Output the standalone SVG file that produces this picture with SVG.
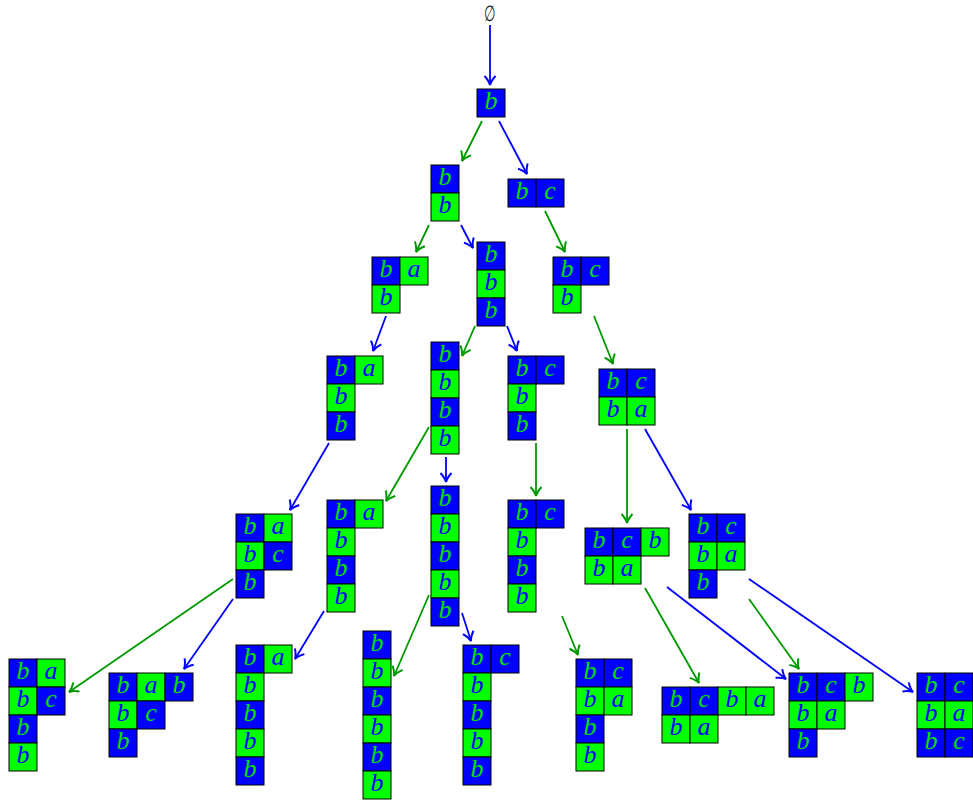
<svg xmlns="http://www.w3.org/2000/svg" width="973" height="801" viewBox="0 0 973 801">
<style>
.B{fill:#0000ff;stroke:#000;stroke-width:1}
.G{fill:#00ff00;stroke:#000;stroke-width:1}
text{font-family:"Liberation Serif","DejaVu Serif",serif;font-style:italic;font-size:26px;text-anchor:middle}
.g{fill:#00e000}
.u{fill:#0000ff}
.eb{stroke:#0000ff;stroke-width:1.8;fill:none;marker-end:url(#mb)}
.eg{stroke:#009900;stroke-width:1.8;fill:none;marker-end:url(#mg)}
</style>
<defs>
<marker id="mb" markerUnits="userSpaceOnUse" markerWidth="14" markerHeight="14" refX="10" refY="7" orient="auto" viewBox="0 0 14 14"><path d="M1,1.5 Q6,6 10,7 Q6,8 1,12.5" fill="none" stroke="#0000ff" stroke-width="2"/></marker>
<marker id="mg" markerUnits="userSpaceOnUse" markerWidth="14" markerHeight="14" refX="10" refY="7" orient="auto" viewBox="0 0 14 14"><path d="M1,1.5 Q6,6 10,7 Q6,8 1,12.5" fill="none" stroke="#009900" stroke-width="2"/></marker>
</defs>
<g id="edges">
<line class="eb" x1="490" y1="25" x2="490" y2="85"/>
<line class="eg" x1="482" y1="121" x2="462" y2="161"/>
<line class="eb" x1="499" y1="121" x2="527" y2="174"/>
<line class="eg" x1="429" y1="225" x2="416" y2="252"/>
<line class="eb" x1="461" y1="225" x2="473" y2="248"/>
<line class="eg" x1="545" y1="211" x2="565" y2="252"/>
<line class="eb" x1="386" y1="316" x2="373" y2="351"/>
<line class="eg" x1="475" y1="326" x2="462" y2="356"/>
<line class="eb" x1="507" y1="326" x2="517" y2="351"/>
<line class="eg" x1="594" y1="316" x2="613" y2="364"/>
<line class="eb" x1="329" y1="443" x2="290" y2="510"/>
<line class="eg" x1="429" y1="427" x2="386" y2="501"/>
<line class="eb" x1="446" y1="457" x2="446" y2="482"/>
<line class="eg" x1="536" y1="443" x2="536" y2="496"/>
<line class="eg" x1="627" y1="429" x2="627" y2="523"/>
<line class="eb" x1="645" y1="429" x2="691" y2="510"/>
<line class="eg" x1="233" y1="579" x2="69" y2="692"/>
<line class="eb" x1="233" y1="599" x2="184" y2="669"/>
<line class="eb" x1="324" y1="611" x2="295" y2="659"/>
<line class="eg" x1="429" y1="595" x2="394" y2="676"/>
<line class="eb" x1="462" y1="613" x2="471" y2="641"/>
<line class="eg" x1="562" y1="616" x2="578" y2="655"/>
<line class="eg" x1="645" y1="588" x2="699" y2="683"/>
<line class="eb" x1="667" y1="587" x2="786" y2="679"/>
<line class="eg" x1="749" y1="599" x2="799" y2="669"/>
<line class="eb" x1="749" y1="579" x2="913" y2="692"/>
</g>
<g id="n0"><text transform="translate(489.5,20.5) scale(0.6,1)" style="font-style:normal;font-size:22px;fill:#222">∅</text></g>
<g id="n1" transform="translate(477,89)">
<rect class="B" x="0" y="0" width="28" height="28"/><text class="g" x="14" y="20">b</text>
</g>
<g id="n2" transform="translate(431,165)">
<rect class="B" x="0" y="0" width="28" height="28"/><text class="g" x="14" y="20">b</text>
<rect class="G" x="0" y="28" width="28" height="28"/><text class="u" x="14" y="48">b</text>
</g>
<g id="n3" transform="translate(508,179)">
<rect class="B" x="0" y="0" width="28" height="28"/><text class="g" x="14" y="20">b</text>
<rect class="B" x="28" y="0" width="28" height="28"/><text class="g" x="42" y="20">c</text>
</g>
<g id="n4" transform="translate(372,257)">
<rect class="B" x="0" y="0" width="28" height="28"/><text class="g" x="14" y="20">b</text>
<rect class="G" x="28" y="0" width="28" height="28"/><text class="u" x="42" y="20">a</text>
<rect class="G" x="0" y="28" width="28" height="28"/><text class="u" x="14" y="48">b</text>
</g>
<g id="n5" transform="translate(477,242)">
<rect class="B" x="0" y="0" width="28" height="28"/><text class="g" x="14" y="20">b</text>
<rect class="G" x="0" y="28" width="28" height="28"/><text class="u" x="14" y="48">b</text>
<rect class="B" x="0" y="56" width="28" height="28"/><text class="g" x="14" y="76">b</text>
</g>
<g id="n6" transform="translate(553,257)">
<rect class="B" x="0" y="0" width="28" height="28"/><text class="g" x="14" y="20">b</text>
<rect class="B" x="28" y="0" width="28" height="28"/><text class="g" x="42" y="20">c</text>
<rect class="G" x="0" y="28" width="28" height="28"/><text class="u" x="14" y="48">b</text>
</g>
<g id="n7" transform="translate(327,356)">
<rect class="B" x="0" y="0" width="28" height="28"/><text class="g" x="14" y="20">b</text>
<rect class="G" x="28" y="0" width="28" height="28"/><text class="u" x="42" y="20">a</text>
<rect class="G" x="0" y="28" width="28" height="28"/><text class="u" x="14" y="48">b</text>
<rect class="B" x="0" y="56" width="28" height="28"/><text class="g" x="14" y="76">b</text>
</g>
<g id="n8" transform="translate(431,342)">
<rect class="B" x="0" y="0" width="28" height="28"/><text class="g" x="14" y="20">b</text>
<rect class="G" x="0" y="28" width="28" height="28"/><text class="u" x="14" y="48">b</text>
<rect class="B" x="0" y="56" width="28" height="28"/><text class="g" x="14" y="76">b</text>
<rect class="G" x="0" y="84" width="28" height="28"/><text class="u" x="14" y="104">b</text>
</g>
<g id="n9" transform="translate(508,356)">
<rect class="B" x="0" y="0" width="28" height="28"/><text class="g" x="14" y="20">b</text>
<rect class="B" x="28" y="0" width="28" height="28"/><text class="g" x="42" y="20">c</text>
<rect class="G" x="0" y="28" width="28" height="28"/><text class="u" x="14" y="48">b</text>
<rect class="B" x="0" y="56" width="28" height="28"/><text class="g" x="14" y="76">b</text>
</g>
<g id="n10" transform="translate(599,369)">
<rect class="B" x="0" y="0" width="28" height="28"/><text class="g" x="14" y="20">b</text>
<rect class="B" x="28" y="0" width="28" height="28"/><text class="g" x="42" y="20">c</text>
<rect class="G" x="0" y="28" width="28" height="28"/><text class="u" x="14" y="48">b</text>
<rect class="G" x="28" y="28" width="28" height="28"/><text class="u" x="42" y="48">a</text>
</g>
<g id="n11" transform="translate(236,514)">
<rect class="B" x="0" y="0" width="28" height="28"/><text class="g" x="14" y="20">b</text>
<rect class="G" x="28" y="0" width="28" height="28"/><text class="u" x="42" y="20">a</text>
<rect class="G" x="0" y="28" width="28" height="28"/><text class="u" x="14" y="48">b</text>
<rect class="B" x="28" y="28" width="28" height="28"/><text class="g" x="42" y="48">c</text>
<rect class="B" x="0" y="56" width="28" height="28"/><text class="g" x="14" y="76">b</text>
</g>
<g id="n12" transform="translate(327,500)">
<rect class="B" x="0" y="0" width="28" height="28"/><text class="g" x="14" y="20">b</text>
<rect class="G" x="28" y="0" width="28" height="28"/><text class="u" x="42" y="20">a</text>
<rect class="G" x="0" y="28" width="28" height="28"/><text class="u" x="14" y="48">b</text>
<rect class="B" x="0" y="56" width="28" height="28"/><text class="g" x="14" y="76">b</text>
<rect class="G" x="0" y="84" width="28" height="28"/><text class="u" x="14" y="104">b</text>
</g>
<g id="n13" transform="translate(431,486)">
<rect class="B" x="0" y="0" width="28" height="28"/><text class="g" x="14" y="20">b</text>
<rect class="G" x="0" y="28" width="28" height="28"/><text class="u" x="14" y="48">b</text>
<rect class="B" x="0" y="56" width="28" height="28"/><text class="g" x="14" y="76">b</text>
<rect class="G" x="0" y="84" width="28" height="28"/><text class="u" x="14" y="104">b</text>
<rect class="B" x="0" y="112" width="28" height="28"/><text class="g" x="14" y="132">b</text>
</g>
<g id="n14" transform="translate(508,500)">
<rect class="B" x="0" y="0" width="28" height="28"/><text class="g" x="14" y="20">b</text>
<rect class="B" x="28" y="0" width="28" height="28"/><text class="g" x="42" y="20">c</text>
<rect class="G" x="0" y="28" width="28" height="28"/><text class="u" x="14" y="48">b</text>
<rect class="B" x="0" y="56" width="28" height="28"/><text class="g" x="14" y="76">b</text>
<rect class="G" x="0" y="84" width="28" height="28"/><text class="u" x="14" y="104">b</text>
</g>
<g id="n15" transform="translate(585,528)">
<rect class="B" x="0" y="0" width="28" height="28"/><text class="g" x="14" y="20">b</text>
<rect class="B" x="28" y="0" width="28" height="28"/><text class="g" x="42" y="20">c</text>
<rect class="G" x="56" y="0" width="28" height="28"/><text class="u" x="70" y="20">b</text>
<rect class="G" x="0" y="28" width="28" height="28"/><text class="u" x="14" y="48">b</text>
<rect class="G" x="28" y="28" width="28" height="28"/><text class="u" x="42" y="48">a</text>
</g>
<g id="n16" transform="translate(689,514)">
<rect class="B" x="0" y="0" width="28" height="28"/><text class="g" x="14" y="20">b</text>
<rect class="B" x="28" y="0" width="28" height="28"/><text class="g" x="42" y="20">c</text>
<rect class="G" x="0" y="28" width="28" height="28"/><text class="u" x="14" y="48">b</text>
<rect class="G" x="28" y="28" width="28" height="28"/><text class="u" x="42" y="48">a</text>
<rect class="B" x="0" y="56" width="28" height="28"/><text class="g" x="14" y="76">b</text>
</g>
<g id="n17" transform="translate(9,659)">
<rect class="B" x="0" y="0" width="28" height="28"/><text class="g" x="14" y="20">b</text>
<rect class="G" x="28" y="0" width="28" height="28"/><text class="u" x="42" y="20">a</text>
<rect class="G" x="0" y="28" width="28" height="28"/><text class="u" x="14" y="48">b</text>
<rect class="B" x="28" y="28" width="28" height="28"/><text class="g" x="42" y="48">c</text>
<rect class="B" x="0" y="56" width="28" height="28"/><text class="g" x="14" y="76">b</text>
<rect class="G" x="0" y="84" width="28" height="28"/><text class="u" x="14" y="104">b</text>
</g>
<g id="n18" transform="translate(109,673)">
<rect class="B" x="0" y="0" width="28" height="28"/><text class="g" x="14" y="20">b</text>
<rect class="G" x="28" y="0" width="28" height="28"/><text class="u" x="42" y="20">a</text>
<rect class="B" x="56" y="0" width="28" height="28"/><text class="g" x="70" y="20">b</text>
<rect class="G" x="0" y="28" width="28" height="28"/><text class="u" x="14" y="48">b</text>
<rect class="B" x="28" y="28" width="28" height="28"/><text class="g" x="42" y="48">c</text>
<rect class="B" x="0" y="56" width="28" height="28"/><text class="g" x="14" y="76">b</text>
</g>
<g id="n19" transform="translate(236,645)">
<rect class="B" x="0" y="0" width="28" height="28"/><text class="g" x="14" y="20">b</text>
<rect class="G" x="28" y="0" width="28" height="28"/><text class="u" x="42" y="20">a</text>
<rect class="G" x="0" y="28" width="28" height="28"/><text class="u" x="14" y="48">b</text>
<rect class="B" x="0" y="56" width="28" height="28"/><text class="g" x="14" y="76">b</text>
<rect class="G" x="0" y="84" width="28" height="28"/><text class="u" x="14" y="104">b</text>
<rect class="B" x="0" y="112" width="28" height="28"/><text class="g" x="14" y="132">b</text>
</g>
<g id="n20" transform="translate(363,631)">
<rect class="B" x="0" y="0" width="28" height="28"/><text class="g" x="14" y="20">b</text>
<rect class="G" x="0" y="28" width="28" height="28"/><text class="u" x="14" y="48">b</text>
<rect class="B" x="0" y="56" width="28" height="28"/><text class="g" x="14" y="76">b</text>
<rect class="G" x="0" y="84" width="28" height="28"/><text class="u" x="14" y="104">b</text>
<rect class="B" x="0" y="112" width="28" height="28"/><text class="g" x="14" y="132">b</text>
<rect class="G" x="0" y="140" width="28" height="28"/><text class="u" x="14" y="160">b</text>
</g>
<g id="n21" transform="translate(463,645)">
<rect class="B" x="0" y="0" width="28" height="28"/><text class="g" x="14" y="20">b</text>
<rect class="B" x="28" y="0" width="28" height="28"/><text class="g" x="42" y="20">c</text>
<rect class="G" x="0" y="28" width="28" height="28"/><text class="u" x="14" y="48">b</text>
<rect class="B" x="0" y="56" width="28" height="28"/><text class="g" x="14" y="76">b</text>
<rect class="G" x="0" y="84" width="28" height="28"/><text class="u" x="14" y="104">b</text>
<rect class="B" x="0" y="112" width="28" height="28"/><text class="g" x="14" y="132">b</text>
</g>
<g id="n22" transform="translate(576,659)">
<rect class="B" x="0" y="0" width="28" height="28"/><text class="g" x="14" y="20">b</text>
<rect class="B" x="28" y="0" width="28" height="28"/><text class="g" x="42" y="20">c</text>
<rect class="G" x="0" y="28" width="28" height="28"/><text class="u" x="14" y="48">b</text>
<rect class="G" x="28" y="28" width="28" height="28"/><text class="u" x="42" y="48">a</text>
<rect class="B" x="0" y="56" width="28" height="28"/><text class="g" x="14" y="76">b</text>
<rect class="G" x="0" y="84" width="28" height="28"/><text class="u" x="14" y="104">b</text>
</g>
<g id="n23" transform="translate(662,687)">
<rect class="B" x="0" y="0" width="28" height="28"/><text class="g" x="14" y="20">b</text>
<rect class="B" x="28" y="0" width="28" height="28"/><text class="g" x="42" y="20">c</text>
<rect class="G" x="56" y="0" width="28" height="28"/><text class="u" x="70" y="20">b</text>
<rect class="G" x="84" y="0" width="28" height="28"/><text class="u" x="98" y="20">a</text>
<rect class="G" x="0" y="28" width="28" height="28"/><text class="u" x="14" y="48">b</text>
<rect class="G" x="28" y="28" width="28" height="28"/><text class="u" x="42" y="48">a</text>
</g>
<g id="n24" transform="translate(789,673)">
<rect class="B" x="0" y="0" width="28" height="28"/><text class="g" x="14" y="20">b</text>
<rect class="B" x="28" y="0" width="28" height="28"/><text class="g" x="42" y="20">c</text>
<rect class="G" x="56" y="0" width="28" height="28"/><text class="u" x="70" y="20">b</text>
<rect class="G" x="0" y="28" width="28" height="28"/><text class="u" x="14" y="48">b</text>
<rect class="G" x="28" y="28" width="28" height="28"/><text class="u" x="42" y="48">a</text>
<rect class="B" x="0" y="56" width="28" height="28"/><text class="g" x="14" y="76">b</text>
</g>
<g id="n25" transform="translate(917,673)">
<rect class="B" x="0" y="0" width="28" height="28"/><text class="g" x="14" y="20">b</text>
<rect class="B" x="28" y="0" width="28" height="28"/><text class="g" x="42" y="20">c</text>
<rect class="G" x="0" y="28" width="28" height="28"/><text class="u" x="14" y="48">b</text>
<rect class="G" x="28" y="28" width="28" height="28"/><text class="u" x="42" y="48">a</text>
<rect class="B" x="0" y="56" width="28" height="28"/><text class="g" x="14" y="76">b</text>
<rect class="B" x="28" y="56" width="28" height="28"/><text class="g" x="42" y="76">c</text>
</g>
</svg>
